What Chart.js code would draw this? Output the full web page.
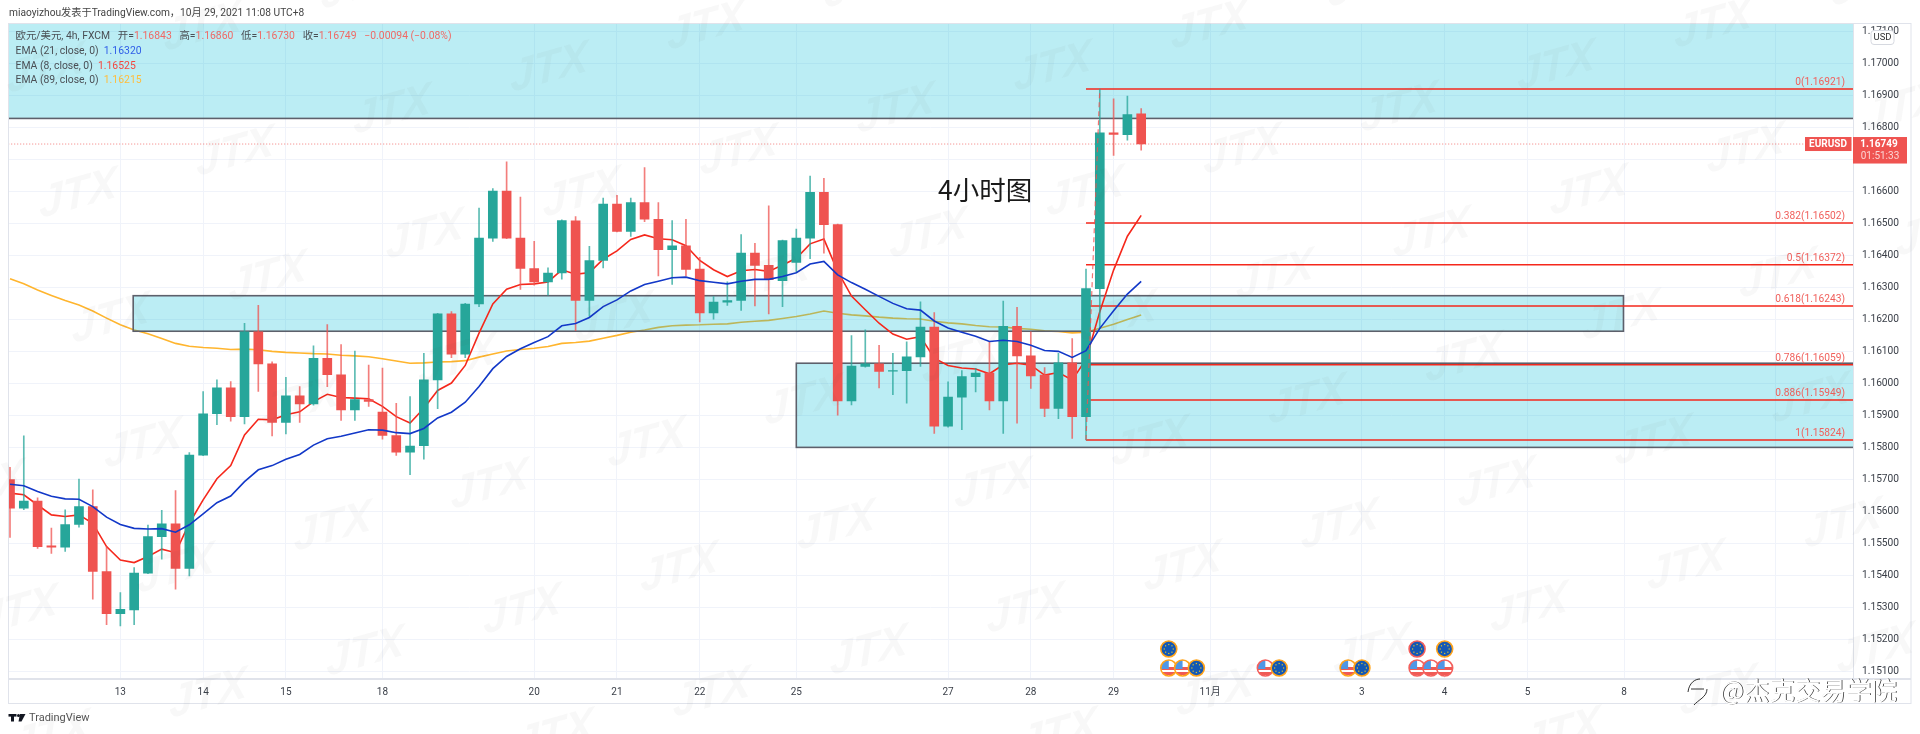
<!DOCTYPE html>
<html>
<head>
<meta charset="utf-8">
<title>EURUSD 4h</title>
<script src="https://cdn.jsdelivr.net/npm/chart.js@4"></script>
<style>
html, body { margin: 0; padding: 0; background: #fff; overflow: hidden; }
canvas { display: block; }
</style>
</head>
<body>
<canvas id="myChart" width="1920" height="734"></canvas>
<script>
var opens = [1.15700,1.15611,1.15633,1.15493,1.15489,1.15560,1.15616,1.15413,1.15281,1.15293,1.15408,1.15522,1.15562,1.15423,1.15777,1.15906,1.15987,1.15897,1.16162,1.16062,1.15879,1.15962,1.15937,1.16079,1.16028,1.15918,1.15950,1.15911,1.15838,1.15786,
  1.15806,1.16012,1.16218,1.16092,1.16249,1.16455,1.16602,1.16455,1.16360,1.16318,1.16346,1.16509,1.16260,1.16385,1.16561,1.16476,1.16566,1.16514,1.16419,1.16431,1.16358,1.16221,1.16255,1.16260,1.16408,1.16370,1.16322,1.16379,1.16455,1.16598,
  1.16497,1.15946,1.16054,1.16062,1.16039,1.16041,1.16084,1.16177,1.15867,1.15958,1.16022,1.16033,1.15946,1.16179,1.16087,1.16027,1.15923,1.16065,1.15897,1.16297,1.16784,1.16778,1.16843];
var highs = [1.15739,1.15837,1.15643,1.15549,1.15606,1.15702,1.15668,1.15491,1.15347,1.15425,1.15558,1.15604,1.15666,1.15785,1.15975,1.16012,1.16007,1.16189,1.16245,1.16068,1.16020,1.15991,1.16118,1.16185,1.16122,1.16102,1.16058,1.16049,1.15939,1.15960,
  1.16095,1.16220,1.16225,1.16251,1.16549,1.16610,1.16693,1.16583,1.16445,1.16362,1.16512,1.16522,1.16429,1.16580,1.16589,1.16580,1.16675,1.16566,1.16510,1.16514,1.16395,1.16272,1.16318,1.16466,1.16439,1.16556,1.16449,1.16483,1.16649,1.16642,
  1.16499,1.16150,1.16168,1.16120,1.16095,1.16131,1.16256,1.16222,1.16006,1.16041,1.16048,1.16131,1.16258,1.16239,1.16162,1.16050,1.16095,1.16141,1.16358,1.16921,1.16890,1.16899,1.16860];
var lows = [1.15520,1.15606,1.15485,1.15470,1.15476,1.15552,1.15327,1.15247,1.15243,1.15247,1.15406,1.15452,1.15358,1.15399,1.15775,1.15872,1.15883,1.15874,1.15976,1.15837,1.15843,1.15879,1.15933,1.15991,1.15885,1.15885,1.15929,1.15827,1.15776,1.15716,
  1.15764,1.15922,1.16081,1.16081,1.16241,1.16445,1.16453,1.16295,1.16308,1.16277,1.16327,1.16166,1.16210,1.16362,1.16474,1.16460,1.16506,1.16337,1.16310,1.16337,1.16193,1.16202,1.16245,1.16229,1.16243,1.16218,1.16241,1.16349,1.16391,1.16408,
  1.15902,1.15934,1.16052,1.15987,1.15966,1.15939,1.16054,1.15845,1.15864,1.15856,1.15974,1.15918,1.15845,1.15877,1.15985,1.15897,1.15891,1.15829,1.15824,1.16173,1.16713,1.16761,1.16730];
var closes = [1.15611,1.15633,1.15491,1.15489,1.15560,1.15616,1.15413,1.15281,1.15295,1.15408,1.15522,1.15562,1.15423,1.15777,1.15906,1.15987,1.15897,1.16162,1.16062,1.15879,1.15962,1.15937,1.16079,1.16028,1.15918,1.15950,1.15945,1.15838,1.15786,1.15805,
  1.16012,1.16218,1.16092,1.16249,1.16455,1.16602,1.16455,1.16360,1.16318,1.16346,1.16510,1.16260,1.16385,1.16561,1.16476,1.16566,1.16514,1.16419,1.16431,1.16357,1.16221,1.16255,1.16260,1.16408,1.16370,1.16325,1.16447,1.16455,1.16598,1.16497,
  1.15946,1.16055,1.16062,1.16038,1.16041,1.16084,1.16177,1.15867,1.15958,1.16022,1.16033,1.15946,1.16179,1.16087,1.16024,1.15923,1.16065,1.15897,1.16297,1.16784,1.16779,1.16841,1.16749];

var ema21 = [1.15686,1.15681,1.15663,1.15648,1.15640,1.15639,1.15616,1.15583,1.15560,1.15548,1.15546,1.15547,1.15536,1.15559,1.15593,1.15628,1.15649,1.15694,1.15731,1.15744,1.15764,1.15779,1.15808,1.15828,1.15836,1.15846,1.15856,1.15855,1.15847,1.15844,
  1.15860,1.15893,1.15911,1.15942,1.15991,1.16047,1.16085,1.16109,1.16129,1.16147,1.16181,1.16188,1.16207,1.16241,1.16262,1.16290,1.16310,1.16320,1.16331,1.16333,1.16322,1.16317,1.16312,1.16320,1.16326,1.16326,1.16335,1.16347,1.16374,1.16382,
  1.16340,1.16316,1.16295,1.16273,1.16251,1.16234,1.16230,1.16196,1.16174,1.16161,1.16148,1.16132,1.16136,1.16132,1.16120,1.16104,1.16101,1.16082,1.16103,1.16173,1.16228,1.16280,1.16320];
var ema8 = [1.15658,1.15653,1.15621,1.15590,1.15585,1.15590,1.15564,1.15491,1.15449,1.15441,1.15460,1.15483,1.15472,1.15564,1.15637,1.15703,1.15744,1.15840,1.15889,1.15887,1.15903,1.15912,1.15944,1.15967,1.15957,1.15955,1.15953,1.15929,1.15897,1.15877,
  1.15923,1.15979,1.16002,1.16057,1.16158,1.16249,1.16295,1.16310,1.16312,1.16318,1.16356,1.16342,1.16347,1.16389,1.16415,1.16451,1.16465,1.16453,1.16450,1.16431,1.16385,1.16356,1.16335,1.16353,1.16357,1.16351,1.16371,1.16392,1.16437,1.16452,
  1.16351,1.16274,1.16231,1.16189,1.16155,1.16139,1.16147,1.16080,1.16057,1.16049,1.16046,1.16031,1.16059,1.16064,1.16058,1.16027,1.16035,1.16012,1.16076,1.16225,1.16355,1.16461,1.16526];
var ema89 = [1.16328,1.16312,1.16293,1.16276,1.16260,1.16246,1.16227,1.16205,1.16184,1.16168,1.16156,1.16141,1.16126,1.16117,1.16113,1.16111,1.16107,1.16108,1.16106,1.16101,1.16098,1.16096,1.16094,1.16093,1.16089,1.16087,1.16084,1.16078,1.16071,1.16064,
  1.16065,1.16068,1.16069,1.16072,1.16083,1.16093,1.16102,1.16107,1.16111,1.16116,1.16126,1.16129,1.16133,1.16142,1.16151,1.16161,1.16168,1.16176,1.16181,1.16183,1.16184,1.16186,1.16187,1.16192,1.16195,1.16198,1.16204,1.16210,1.16218,1.16227,
  1.16220,1.16215,1.16212,1.16208,1.16205,1.16203,1.16202,1.16195,1.16190,1.16187,1.16182,1.16178,1.16177,1.16173,1.16170,1.16165,1.16163,1.16159,1.16161,1.16173,1.16186,1.16201,1.16215];

var priceTicks = [1.151,1.152,1.153,1.154,1.155,1.156,1.157,1.158,1.159,1.160,1.161,1.162,1.163,1.164,1.165,1.166,1.167,1.168,1.169,1.170,1.171];
var dayTicks = [8,14,20,27,38,44,50,57,68,74,80,87,98,104,110,117,128];
var dayLabels = ['13','14','15','18','20','21','22','25','27','28','29','11月','3','4','5','8',''];

var fibNames = ['0','0.382','0.5','0.618','0.786','0.886','1'];
var fibLevels = [1.16921,1.16502,1.16372,1.16243,1.16059,1.15949,1.15824];
var fibStart = 78;
var lastPrice = 1.16749;

// [left index, right index, top price, bottom price]
var zones = [
  [-1,140,1.1730,1.16829],
  [8.93,116.96,1.16275,1.16164],
  [57,140,1.16064,1.15801]
];

var eventIndex = [84,102,104,84,85,86,91,92,97,98,102,103,104];
var eventRow = [0,0,0,1,1,1,1,1,1,1,1,1,1];
var eventKind = ['eu','eu','eu','us','us','eu','us','eu','us','eu','us','us','us'];
var eventRing = ['o','r','o','o','o','o','r','o','o','o','r','r','r'];

var UP = '#26a69a', DOWN = '#ef5350', FONT = 'Roboto, "Noto Sans CJK SC", sans-serif';
var barColors = closes.map(function(c, i) { return c >= opens[i] ? UP : DOWN; });
var wickColors = closes.map(function(c, i) { return c >= opens[i] ? 'rgba(38,166,154,0.75)' : 'rgba(239,83,80,0.75)'; });

function series(values) {
  return values.map(function(v, i) { return {x: i, y: v}; });
}
function lineSet(label, values, color, order) {
  return {type: 'line', label: label, data: series(values), borderColor: color, borderWidth: 1.6, pointRadius: 0, tension: 0, order: order};
}

var datasets = [
  lineSet('EMA 89', ema89, '#ffb52e', 10),
  lineSet('EMA 8', ema8, '#f5281c', 7),
  {type: 'bar', label: 'wick', grouped: false, barThickness: 1, order: 6, backgroundColor: wickColors,
    data: highs.map(function(h, i) { return {x: i, y: [lows[i], h]}; })},
  {type: 'bar', label: 'body', grouped: false, barThickness: 9, order: 5, backgroundColor: barColors,
    data: opens.map(function(o, i) { return {x: i, y: [o, closes[i]]}; })},
  lineSet('EMA 21', ema21, '#1238c8', 4),
  {type: 'line', label: 'leg', data: [{x: 78, y: 1.15824}, {x: 79, y: 1.16921}], borderColor: 'rgba(239,83,80,0.8)', borderWidth: 1.2, borderDash: [5, 4], pointRadius: 0, order: 3},
  {type: 'line', label: 'last', data: [{x: -1, y: lastPrice}, {x: 140, y: lastPrice}], borderColor: 'rgba(239,83,80,0.75)', borderWidth: 1, borderDash: [1, 2], pointRadius: 0, order: 9}
];
fibLevels.forEach(function(level) {
  datasets.push({type: 'line', label: 'fib', data: [{x: fibStart, y: level}, {x: 140, y: level}], borderColor: '#f5281c', borderWidth: 1.5, pointRadius: 0, order: 8});
});

function drawSegments(ctx, x, y, parts) {
  parts.forEach(function(p) {
    ctx.fillStyle = p[1];
    ctx.fillText(p[0], x, y);
    x += ctx.measureText(p[0]).width;
  });
}

function drawEvent(ctx, x, y, kind, ring) {
  var r = 8;
  ctx.save();
  ctx.beginPath();
  ctx.arc(x, y, r, 0, Math.PI * 2);
  ctx.fillStyle = '#fff';
  ctx.fill();
  ctx.clip();
  if (kind === 'eu') {
    ctx.fillStyle = '#1458b4';
    ctx.fillRect(x - r, y - r, r * 2, r * 2);
    ctx.fillStyle = '#e6c62a';
    for (var a = 0; a < 8; a++) {
      ctx.fillRect(x + Math.cos(a * Math.PI / 4) * 4.5 - 0.6, y + Math.sin(a * Math.PI / 4) * 4.5 - 0.6, 1.2, 1.2);
    }
  } else {
    ctx.fillStyle = '#ef5a55';
    ctx.fillRect(x - r, y - 1, r * 2, 3);
    ctx.fillRect(x - r, y + 4, r * 2, 3);
    ctx.fillStyle = '#4f97e6';
    ctx.fillRect(x - r, y - r, r, r + 1);
  }
  ctx.restore();
  ctx.beginPath();
  ctx.arc(x, y, r, 0, Math.PI * 2);
  ctx.lineWidth = 1.6;
  ctx.strokeStyle = ring === 'o' ? '#ffa31a' : '#f4605c';
  ctx.stroke();
}

var drawingPlugin = {
  id: 'drawings',
  afterDatasetDraw: function(chart, args) {
    if (chart.data.datasets[args.index].label !== 'EMA 89') return;
    var ctx = chart.ctx, xs = chart.scales.x, ys = chart.scales.y, area = chart.chartArea;
    ctx.save();
    ctx.beginPath();
    ctx.rect(area.left, area.top, area.right - area.left, area.bottom - area.top);
    ctx.clip();
    zones.forEach(function(z) {
      var x0 = xs.getPixelForValue(z[0]), x1 = xs.getPixelForValue(z[1]);
      var y0 = ys.getPixelForValue(z[2]), y1 = ys.getPixelForValue(z[3]);
      ctx.fillStyle = 'rgba(0,188,212,0.267)';
      ctx.fillRect(x0, y0, x1 - x0, y1 - y0);
      ctx.strokeStyle = '#5d606b';
      ctx.lineWidth = 1.6;
      ctx.strokeRect(x0, y0, x1 - x0, y1 - y0);
    });
    ctx.restore();
  },
  afterDraw: function(chart) {
    var ctx = chart.ctx, xs = chart.scales.x, ys = chart.scales.y, area = chart.chartArea;
    ctx.save();
    ctx.textBaseline = 'middle';

    // frame
    ctx.strokeStyle = '#e0e3eb';
    ctx.lineWidth = 1;
    ctx.strokeRect(8.5, 23.5, 1902.5, 680);
    ctx.lineWidth = 2;
    ctx.beginPath();
    ctx.moveTo(8.5, area.bottom);
    ctx.lineTo(1911, area.bottom);
    ctx.stroke();

    // fib labels
    ctx.font = '10.2px ' + FONT;
    ctx.textAlign = 'right';
    ctx.fillStyle = '#f0605c';
    fibLevels.forEach(function(level, i) {
      ctx.fillText(fibNames[i] + '(' + level.toFixed(5) + ')', 1845, ys.getPixelForValue(level) - 6.5);
    });

    // last price tags
    var py = ys.getPixelForValue(lastPrice);
    ctx.fillStyle = DOWN;
    ctx.fillRect(1805, py - 7, 46.5, 14);
    ctx.fillRect(1853, py - 7, 54, 26.5);
    ctx.fillStyle = '#fff';
    ctx.textAlign = 'center';
    ctx.font = 'bold 10px ' + FONT;
    ctx.fillText('EURUSD', 1828, py + 0.5);
    ctx.fillText(lastPrice.toFixed(5), 1879, py + 0.5);
    ctx.font = '10px ' + FONT;
    ctx.fillStyle = '#fbd5d4';
    ctx.fillText('01:51:33', 1880, py + 12.5);

    // USD box
    ctx.fillStyle = '#fff';
    ctx.strokeStyle = '#d6d9e0';
    ctx.lineWidth = 1;
    ctx.beginPath();
    ctx.roundRect(1871, 30.5, 23, 14, 3);
    ctx.fill();
    ctx.stroke();
    ctx.fillStyle = '#333';
    ctx.font = '9.5px ' + FONT;
    ctx.fillText('USD', 1882.5, 37.5);

    // header and legend
    ctx.textAlign = 'left';
    ctx.font = '10.2px ' + FONT;
    ctx.fillStyle = '#444';
    ctx.fillText('miaoyizhou发表于TradingView.com，10月 29, 2021 11:08 UTC+8', 9, 13);
    ctx.font = '10.4px ' + FONT;
    var grey = '#4a4f55', red = '#ef6a66';
    drawSegments(ctx, 15.5, 36, [['欧元/美元, 4h, FXCM   开=', grey], ['1.16843', red], ['   高=', grey], ['1.16860', red], ['   低=', grey], ['1.16730', red], ['   收=', grey], ['1.16749', red], ['   −0.00094 (−0.08%)', red]]);
    drawSegments(ctx, 15.5, 51, [['EMA (21, close, 0)  ', grey], ['1.16320', '#2f5fe8']]);
    drawSegments(ctx, 15.5, 66, [['EMA (8, close, 0)  ', grey], ['1.16525', '#f4473f']]);
    drawSegments(ctx, 15.5, 80, [['EMA (89, close, 0)  ', grey], ['1.16215', '#ffbd3c']]);

    // annotation
    ctx.font = '26.5px "Noto Sans CJK SC", sans-serif';
    ctx.fillStyle = '#1a1a1a';
    ctx.fillText('4小时图', 938, 190);

    // events
    eventIndex.forEach(function(idx, i) {
      if (i > 2) drawEvent(ctx, xs.getPixelForValue(idx), eventRow[i] ? 668 : 649, eventKind[i], eventRing[i]);
    });
    eventIndex.forEach(function(idx, i) {
      if (i <= 2) drawEvent(ctx, xs.getPixelForValue(idx), 649, eventKind[i], eventRing[i]);
    });

    // TradingView mark
    ctx.fillStyle = '#131722';
    ctx.fillRect(8.5, 714, 8, 2.6);
    ctx.fillRect(11, 714, 3, 7.5);
    ctx.beginPath();
    ctx.arc(18.5, 715.5, 1.5, 0, Math.PI * 2);
    ctx.fill();
    ctx.beginPath();
    ctx.moveTo(20, 714);
    ctx.lineTo(25.5, 714);
    ctx.lineTo(21.5, 721.5);
    ctx.lineTo(18.5, 721.5);
    ctx.closePath();
    ctx.fill();
    ctx.font = '11px ' + FONT;
    ctx.fillStyle = '#555';
    ctx.fillText('TradingView', 29, 718.5);

    // JTX watermark
    ctx.font = 'italic bold 44px "Liberation Sans", sans-serif';
    ctx.textAlign = 'center';
    ctx.fillStyle = 'rgba(70,70,70,0.04)';
    for (var n = -3; n <= 8; n++) {
      for (var m = -3; m <= 14; m++) {
        var wx = 235 + n * 32.5 + m * 157, wy = 153 + n * 125 - m * 42;
        if (wx < -60 || wx > 1980 || wy < -40 || wy > 780) continue;
        ctx.save();
        ctx.translate(wx, wy);
        ctx.rotate(-0.27);
        ctx.transform(1, 0, -0.25, 1, 0, 0);
        ctx.fillText('JTX', 0, 0);
        ctx.restore();
      }
    }

    // bottom right site mark
    ctx.font = '25.5px "Noto Sans CJK SC", sans-serif';
    ctx.textAlign = 'left';
    ctx.fillStyle = '#222';
    ctx.fillText('@杰克交易学院', 1720.7, 690.7);
    ctx.fillStyle = '#fff';
    ctx.fillText('@杰克交易学院', 1720, 690);
    ctx.strokeStyle = '#333';
    ctx.lineWidth = 1;
    ctx.beginPath();
    ctx.moveTo(1688, 692);
    ctx.bezierCurveTo(1689, 683, 1695, 679, 1700, 679);
    ctx.moveTo(1691, 689);
    ctx.lineTo(1704, 689);
    ctx.moveTo(1707, 689);
    ctx.bezierCurveTo(1707, 697, 1698, 700, 1694, 705);
    ctx.stroke();
    ctx.restore();
  }
};

new Chart(document.getElementById('myChart').getContext('2d'), {
  data: {datasets: datasets},
  plugins: [drawingPlugin],
  options: {
    responsive: false,
    animation: false,
    layout: {padding: {left: 8.5, top: 23, right: 9, bottom: 31}},
    plugins: {legend: {display: false}, tooltip: {enabled: false}},
    scales: {
      x: {
        type: 'linear',
        offset: false,
        min: -0.109,
        max: 133.6,
        afterBuildTicks: function(scale) { scale.ticks = dayTicks.map(function(v) { return {value: v}; }); },
        afterFit: function(scale) { scale.height = 24; },
        grid: {color: '#f0f3fa', drawTicks: false, offset: false},
        border: {color: '#e0e3eb'},
        ticks: {
          autoSkip: false, maxRotation: 0, padding: 7, color: '#3a3f48', font: {family: FONT, size: 10},
          callback: function(value, index) { return dayLabels[index]; }
        }
      },
      y: {
        type: 'linear',
        position: 'right',
        min: 1.150772,
        max: 1.171272,
        afterBuildTicks: function(scale) { scale.ticks = priceTicks.map(function(v) { return {value: v}; }); },
        afterFit: function(scale) { scale.width = 58; },
        grid: {color: '#f0f3fa', drawTicks: false},
        border: {color: '#e0e3eb'},
        ticks: {
          autoSkip: false, padding: 9, color: '#3a3f48', font: {family: FONT, size: 10.2},
          callback: function(value) { return value.toFixed(5); }
        }
      }
    }
  }
});
</script>
</body>
</html>
